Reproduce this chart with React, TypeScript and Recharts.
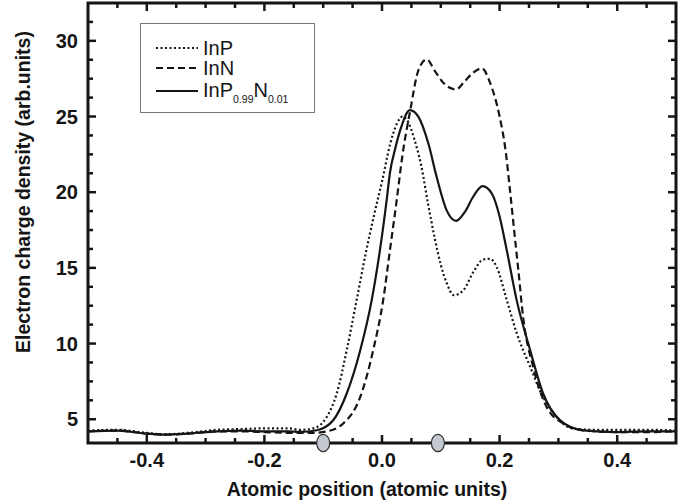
import React from 'react';
import { LineChart, Line, XAxis, YAxis, Legend, ReferenceDot, ReferenceArea } from 'recharts';

// positions along the bond (atomic units)
const inpX = [-0.5, -0.45, -0.4, -0.37, -0.33, -0.28, -0.24, -0.2, -0.16, -0.139, -0.117, -0.094, -0.077, -0.06, -0.043, -0.028, -0.014, 0.0, 0.014, 0.025, 0.035, 0.045, 0.055, 0.067, 0.078, 0.09, 0.1, 0.11, 0.122, 0.138, 0.155, 0.172, 0.184, 0.195, 0.212, 0.229, 0.252, 0.274, 0.297, 0.325, 0.365, 0.42, 0.46, 0.5];
const inpY = [4.25, 4.3, 4.1, 4.0, 4.1, 4.3, 4.35, 4.4, 4.4, 4.3, 4.4, 5.15, 6.7, 9.56, 12.9, 15.9, 18.4, 20.7, 23.2, 24.5, 25.0, 24.6, 23.5, 21.7, 19.3, 16.9, 15.2, 14.0, 13.2, 13.5, 14.7, 15.55, 15.6, 15.06, 12.9, 10.7, 8.46, 6.47, 5.15, 4.38, 4.3, 4.3, 4.3, 4.25];

const innX = [-0.5, -0.45, -0.4, -0.37, -0.33, -0.28, -0.24, -0.2, -0.16, -0.117, -0.094, -0.066, -0.037, -0.015, 0.002, 0.0136, 0.025, 0.035, 0.048, 0.062, 0.076, 0.09, 0.105, 0.126, 0.14, 0.155, 0.17, 0.184, 0.2, 0.21, 0.218, 0.226, 0.232, 0.24, 0.257, 0.28, 0.308, 0.342, 0.4, 0.45, 0.5];
const innY = [4.2, 4.25, 4.05, 3.98, 4.05, 4.2, 4.2, 4.15, 4.1, 4.1, 4.2, 4.72, 6.47, 9.56, 12.87, 16.2, 19.47, 22.5, 25.4, 28.07, 28.77, 28.0, 27.2, 26.79, 27.3, 27.9, 28.18, 27.2, 25.0, 22.8, 20.0, 17.0, 14.8, 11.76, 8.46, 5.81, 4.72, 4.27, 4.15, 4.15, 4.2];

const alloyX = [-0.5, -0.45, -0.4, -0.37, -0.33, -0.28, -0.24, -0.2, -0.16, -0.139, -0.111, -0.083, -0.06, -0.037, -0.0175, -0.0034, 0.008, 0.0136, 0.022, 0.031, 0.0475, 0.062, 0.079, 0.093, 0.11, 0.126, 0.141, 0.155, 0.171, 0.187, 0.2, 0.212, 0.229, 0.252, 0.274, 0.303, 0.342, 0.4, 0.45, 0.5];
const alloyY = [4.2, 4.25, 4.05, 3.98, 4.05, 4.2, 4.25, 4.2, 4.2, 4.16, 4.27, 4.93, 6.7, 9.56, 12.87, 16.2, 19.5, 21.3, 22.8, 24.1, 25.42, 24.98, 23.2, 21.0, 18.8, 18.1, 18.7, 19.7, 20.4, 19.9, 18.4, 16.2, 12.87, 9.56, 6.7, 4.93, 4.27, 4.15, 4.2, 4.2];

// atom sites marked on the axis
const atomSites = [-0.1, 0.095];

const xTicks = [-0.45, -0.4, -0.35, -0.3, -0.25, -0.2, -0.15, -0.1, -0.05, 0, 0.05, 0.1, 0.15, 0.2, 0.25, 0.3, 0.35, 0.4, 0.45];
const yTicks = [5, 6.25, 7.5, 8.75, 10, 11.25, 12.5, 13.75, 15, 16.25, 17.5, 18.75, 20, 21.25, 22.5, 23.75, 25, 26.25, 27.5, 28.75, 30, 31.25];

const X_DOMAIN = [-0.5, 0.5];
const Y_DOMAIN = [3.43, 32.5];

// plot box edges in px (chart margins below put it here)
const TOP = 3;
const BOTTOM = 443;
const LEFT = 88;
const RIGHT = 676;

const FONT = '"Liberation Sans", Arial, Helvetica, sans-serif';
const INK = '#151515';

const toPoints = (xs: number[], ys: number[]) => xs.map((x, i) => ({ x, y: ys[i] }));
const inpData = toPoints(inpX, inpY);
const innData = toPoints(innX, innY);
const alloyData = toPoints(alloyX, alloyY);

const isMajorX = (v: number) => Math.abs(Math.round(v * 20)) % 4 === 0;
const isMajorY = (v: number) => Math.round(v * 4) % 20 === 0;
// the atom markers sit on top of the bottom tick there
const underAtom = (v: number) => atomSites.some((s) => Math.abs(s - v) < 0.012);

// ticks point inward on both opposite sides of the box
const XTick = ({ x, payload }: any) => {
    const major = isMajorX(payload.value);
    const len = major ? 8 : 5;
    return (
        <g>
            {!underAtom(payload.value) && (
                <line x1={x} y1={BOTTOM} x2={x} y2={BOTTOM - len} stroke={INK} strokeWidth={2.5} />
            )}
            <line x1={x} y1={TOP} x2={x} y2={TOP + len} stroke={INK} strokeWidth={2.5} />
            {major && (
                <text x={x} y={BOTTOM + 24} textAnchor="middle" fontFamily={FONT} fontWeight="bold" fontSize={20} fill={INK}>
                    {payload.value.toFixed(1)}
                </text>
            )}
        </g>
    );
};

const YTick = ({ y, payload }: any) => {
    const major = isMajorY(payload.value);
    const len = major ? 8 : 5;
    return (
        <g>
            <line x1={LEFT} y1={y} x2={LEFT + len} y2={y} stroke={INK} strokeWidth={2.5} />
            <line x1={RIGHT} y1={y} x2={RIGHT - len} y2={y} stroke={INK} strokeWidth={2.5} />
            {major && (
                <text x={LEFT - 10} y={y} dy="0.36em" textAnchor="end" fontFamily={FONT} fontWeight="bold" fontSize={20} fill={INK}>
                    {payload.value}
                </text>
            )}
        </g>
    );
};

const XTitle = () => (
    <text x={367} y={496} textAnchor="middle" fontFamily={FONT} fontWeight="bold" fontSize={19.5} fill={INK}>
        Atomic position (atomic units)
    </text>
);

const YTitle = () => (
    <text x={30} y={192} transform="rotate(-90 30 192)" textAnchor="middle" fontFamily={FONT} fontWeight="bold" fontSize={19.5} fill={INK}>
        Electron charge density (arb.units)
    </text>
);

const AtomMark = ({ cx }: any) => (
    <ellipse cx={cx} cy={BOTTOM} rx={6.5} ry={8.7} fill="#c3c9cf" stroke="#333" strokeWidth={1.2} />
);

const subStyle: React.CSSProperties = { fontSize: 10.5, position: 'relative', top: 6 };

const legendRows = [
    { dash: '2 2.5', label: <>InP</> },
    { dash: '7 4', label: <>InN</> },
    {
        dash: undefined,
        label: (
            <>
                InP<span style={subStyle}>0.99</span>N<span style={subStyle}>0.01</span>
            </>
        ),
    },
];
const rowTops = [24, 44, 67];

const LegendBox = () => (
    <div
        style={{
            position: 'relative',
            width: 175,
            height: 90,
            boxSizing: 'border-box',
            border: '1.5px solid #777',
            background: '#fff',
            fontFamily: FONT,
            fontSize: 20,
            color: INK,
        }}
    >
        {legendRows.map((r, i) => (
            <div key={i} style={{ position: 'absolute', left: 15, top: rowTops[i] - 12, height: 24, display: 'flex', alignItems: 'center' }}>
                <svg width={42} height={6} style={{ marginRight: 5 }}>
                    <line x1={0} y1={3} x2={42} y2={3} stroke={INK} strokeWidth={2} strokeDasharray={r.dash} />
                </svg>
                <span style={{ whiteSpace: 'nowrap', lineHeight: '24px' }}>{r.label}</span>
            </div>
        ))}
    </div>
);

export default function App() {
    return (
        <div style={{ width: 696, height: 503, background: '#fff' }}>
            <style>{'body{margin:0;background:#fff}'}</style>
            <LineChart width={696} height={503} margin={{ top: TOP, right: 696 - RIGHT, bottom: 0, left: 0 }}>
                <XAxis
                    type="number"
                    dataKey="x"
                    domain={X_DOMAIN}
                    allowDataOverflow
                    ticks={xTicks}
                    interval={0}
                    height={503 - BOTTOM}
                    tickSize={0}
                    tickMargin={0}
                    axisLine={false}
                    tickLine={false}
                    tick={<XTick />}
                    label={<XTitle />}
                />
                <YAxis
                    type="number"
                    domain={Y_DOMAIN}
                    allowDataOverflow
                    ticks={yTicks}
                    interval={0}
                    width={LEFT}
                    tickSize={0}
                    tickMargin={0}
                    axisLine={false}
                    tickLine={false}
                    tick={<YTick />}
                    label={<YTitle />}
                />
                <Legend
                    layout="horizontal"
                    verticalAlign="middle"
                    align="center"
                    wrapperStyle={{ top: 23, left: 140, width: 175, height: 90 }}
                    content={() => <LegendBox />}
                />
                <Line
                    data={inpData}
                    dataKey="y"
                    name="InP"
                    type="monotone"
                    stroke={INK}
                    strokeWidth={2.2}
                    strokeDasharray="2 2.5"
                    dot={false}
                    activeDot={false}
                    isAnimationActive={false}
                />
                <Line
                    data={innData}
                    dataKey="y"
                    name="InN"
                    type="monotone"
                    stroke={INK}
                    strokeWidth={2.2}
                    strokeDasharray="7 4"
                    dot={false}
                    activeDot={false}
                    isAnimationActive={false}
                />
                <Line
                    data={alloyData}
                    dataKey="y"
                    name="InP0.99N0.01"
                    type="monotone"
                    stroke={INK}
                    strokeWidth={2.2}
                    dot={false}
                    activeDot={false}
                    isAnimationActive={false}
                />
                <ReferenceArea
                    x1={X_DOMAIN[0]}
                    x2={X_DOMAIN[1]}
                    y1={Y_DOMAIN[0]}
                    y2={Y_DOMAIN[1]}
                    fill="none"
                    fillOpacity={0}
                    stroke={INK}
                    strokeWidth={3}
                    ifOverflow="visible"
                />
                {atomSites.map((s) => (
                    <ReferenceDot
                        key={s}
                        x={s}
                        y={Y_DOMAIN[0]}
                        ifOverflow="visible"
                        shape={<AtomMark />}
                    />
                ))}
            </LineChart>
        </div>
    );
}
